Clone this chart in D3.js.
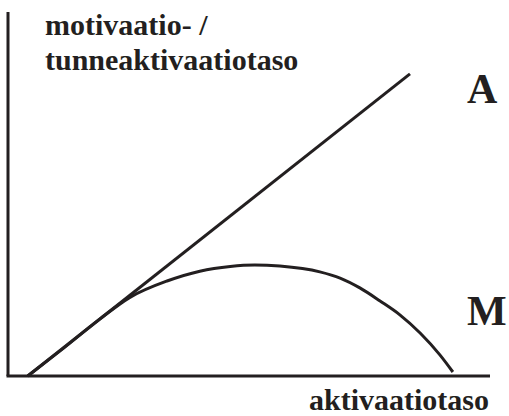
<!DOCTYPE html>
<html>
<head>
<meta charset="utf-8">
<script src="https://cdn.jsdelivr.net/npm/d3@7"></script>
<style>
  html, body { margin: 0; padding: 0; background: #fff; }
</style>
</head>
<body>
<svg id="chart" width="509" height="416"></svg>
<script>
// activation level (x) vs motivation / emotional activation (y), arbitrary units 0..10
const lineA_x = [0.41, 8.34]
const lineA_y = [0, 8.30]

const curveM_x = [0.41, 1.08, 1.91, 2.53, 3.30, 3.98, 4.61, 5.12, 5.64, 6.47, 6.89, 7.30, 7.72, 8.13, 8.55, 8.96, 9.23]
const curveM_y = [0, 0.69, 1.57, 2.16, 2.61, 2.88, 3.01, 3.05, 3.02, 2.86, 2.69, 2.42, 2.06, 1.68, 1.18, 0.58, 0.11]

const yTitle = ["motivaatio- /", "tunneaktivaatiotaso"]
const xTitle = "aktivaatiotaso"
const seriesLabels = ["A", "M"]

const svg = d3.select('#chart')
const ink = "#231f20"
const font = "Liberation Serif"

const x = d3.scaleLinear().domain([0, 10]).range([8, 490])
const y = d3.scaleLinear().domain([0, 10]).range([376, 12])

// axes: plain lines, no ticks
svg.append("line")
  .attr("x1", x(0)).attr("x2", x(0))
  .attr("y1", y(0)).attr("y2", y(10))
  .attr("stroke", ink).attr("stroke-width", 3)
svg.append("line")
  .attr("x1", x(0) - 1.5).attr("x2", x(10))
  .attr("y1", y(0)).attr("y2", y(0))
  .attr("stroke", ink).attr("stroke-width", 3)

const line = d3.line().x(d => x(d[0])).y(d => y(d[1]))

svg.append("path")
  .datum(d3.zip(lineA_x, lineA_y))
  .attr("fill", "none")
  .attr("stroke", ink)
  .attr("stroke-width", 3)
  .attr("d", line)

svg.append("path")
  .datum(d3.zip(curveM_x, curveM_y))
  .attr("fill", "none")
  .attr("stroke", ink)
  .attr("stroke-width", 3)
  .attr("d", line.curve(d3.curveMonotoneX))

// titles
svg.selectAll("text.ytitle")
  .data(yTitle).enter().append("text")
  .attr("class", "ytitle")
  .attr("x", 45)
  .attr("y", (d, i) => 35 + i * 35)
  .attr("font-family", font).attr("font-weight", "bold")
  .attr("font-size", 30).attr("fill", ink)
  .text(d => d)

svg.append("text")
  .attr("x", 309)
  .attr("y", 410)
  .attr("font-family", font).attr("font-weight", "bold")
  .attr("font-size", 30).attr("fill", ink)
  .text(xTitle)

svg.selectAll("text.series")
  .data(seriesLabels).enter().append("text")
  .attr("class", "series")
  .attr("x", 467)
  .attr("y", (d, i) => i === 0 ? 103 : 325)
  .attr("font-family", font).attr("font-weight", "bold")
  .attr("font-size", 42).attr("fill", ink)
  .text(d => d)
</script>
</body>
</html>
